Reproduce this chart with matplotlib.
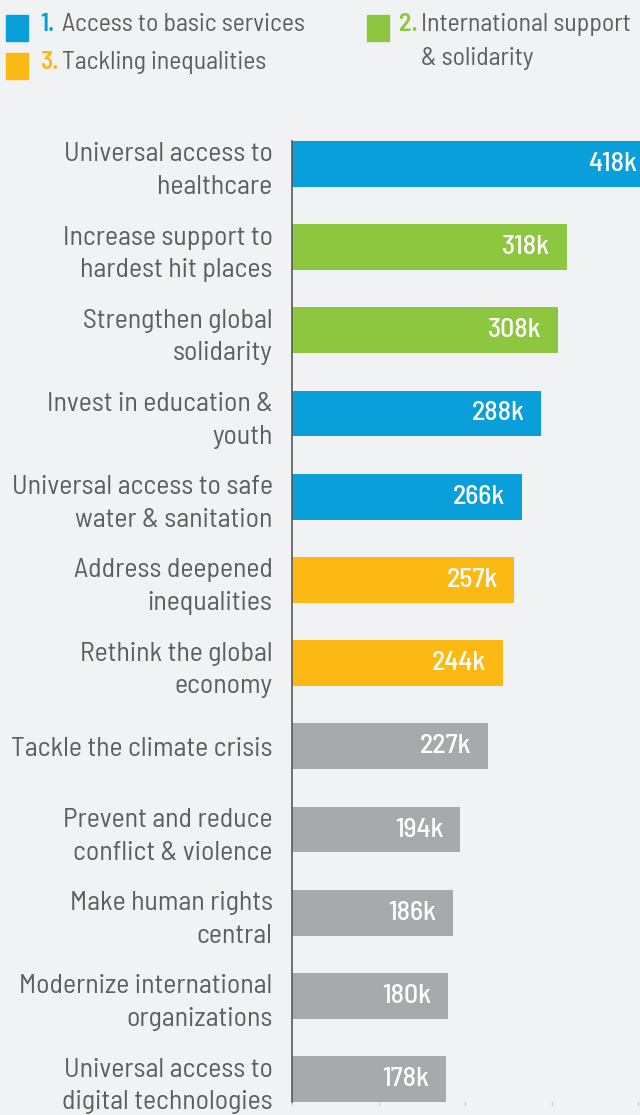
import matplotlib.pyplot as plt
from matplotlib.patches import Rectangle

plt.rcParams['font.family'] = ['Barlow Semi Condensed', 'DejaVu Sans']

labels = ['Universal access to\nhealthcare', 'Increase support to\nhardest hit places',
          'Strengthen global\nsolidarity', 'Invest in education &\nyouth',
          'Universal access to safe\nwater & sanitation', 'Address deepened\ninequalities',
          'Rethink the global\neconomy', 'Tackle the climate crisis',
          'Prevent and reduce\nconflict & violence', 'Make human rights\ncentral',
          'Modernize international\norganizations', 'Universal access to\ndigital technologies']
values = [418, 318, 308, 288, 266, 257, 244, 227, 194, 186, 180, 178]
groups = [1, 2, 2, 1, 1, 3, 3, 0, 0, 0, 0, 0]

colors = {1: '#089fda', 2: '#8dc63f', 3: '#fdb913', 0: '#a7a9ac'}
legend_nums = {1: '1.', 2: '2.', 3: '3.'}
legend_lines = {1: ['Access to basic services'], 2: ['International support', '& solidarity'],
                3: ['Tackling inequalities']}
bg = '#f1f2f4'
txt = '#5d5e60'
fs = 20
lfs = 18.5

fig = plt.figure(figsize=(6.4, 11.15), dpi=100, facecolor=bg)
ax = fig.add_axes([292/640, 1-1102/1115, 1-292/640, (1102-141)/1115], facecolor=bg)

y = list(range(len(values)))
ax.barh(y, values, height=0.55, color=[colors[g] for g in groups])
ax.set_xlim(0, (640-292)/0.865)
ax.set_ylim(len(values)-1+0.275, -0.275)

for yi, v in zip(y, values):
    ax.annotate(f'{v}k', (v, yi), xytext=(-12, 0), textcoords='offset points',
                ha='right', va='center', color='white', fontsize=fs,
                fontweight=500, annotation_clip=False)

ax.set_yticks(y)
ax.set_yticklabels(labels, fontsize=fs, color=txt, linespacing=1.45)
ax.tick_params(axis='y', length=0, pad=14)
ax.set_xticks([0, 100, 200, 300, 400])
ax.set_xticklabels([])
ax.tick_params(axis='x', length=2, color='#c8c9cb', width=1)
for s in ['top', 'right', 'bottom']:
    ax.spines[s].set_visible(False)
ax.spines['left'].set_color('#58595b')
ax.spines['left'].set_linewidth(1.2)

# legend
pos = {1: (6, 40, 31), 2: (367, 399, 31), 3: (6, 40, 69)}
for g in legend_nums:
    x0, xn, base = pos[g]
    fig.patches.append(Rectangle((x0/640, 1-(base+10)/1115), 22/640, 26/1115,
                                 transform=fig.transFigure, color=colors[g]))
    fig.text(xn/640, 1-base/1115, legend_nums[g], color=colors[g], fontsize=lfs,
             fontweight=600, va='baseline', ha='left')
    for k, line in enumerate(legend_lines[g]):
        fig.text((xn+22)/640, 1-(base+34*k)/1115, line, color=txt, fontsize=lfs,
                 va='baseline', ha='left')

fig.savefig('out.png', dpi=100, facecolor=bg)
